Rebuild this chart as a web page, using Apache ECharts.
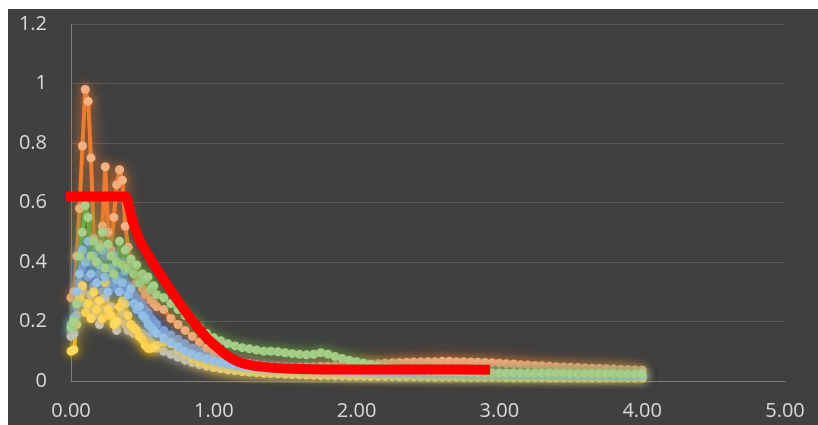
<!DOCTYPE html>
<html>
<head>
<meta charset="utf-8">
<script src="https://cdn.jsdelivr.net/npm/echarts@6/dist/echarts.min.js"></script>
<style>
html,body{margin:0;padding:0;background:#ffffff;}
#chart{position:absolute;left:8px;top:9px;width:810px;height:416px;background:#404040;}
</style>
</head>
<body>
<div id="chart"></div>
<script>
// Periods (s)
const periods = [0,0.02,0.04,0.06,0.08,0.10,0.12,0.14,0.16,0.18,0.20,0.22,0.24,0.26,0.28,0.30,0.32,0.34,0.36,0.38,0.40,0.42,0.44,0.46,0.48,0.50,0.52,0.54,0.56,0.58,0.60,
0.65,0.70,0.75,0.80,0.85,0.90,0.95,1.00,
1.05,1.10,1.15,1.20,1.25,1.30,1.35,1.40,1.45,1.50,1.55,1.60,1.65,1.70,1.75,1.80,1.85,1.90,1.95,2.00,
2.05,2.10,2.15,2.20,2.25,2.30,2.35,2.40,2.45,2.50,2.55,2.60,2.65,2.70,2.75,2.80,2.85,2.90,2.95,3.00,
3.05,3.10,3.15,3.20,3.25,3.30,3.35,3.40,3.45,3.50,3.55,3.60,3.65,3.70,3.75,3.80,3.85,3.90,3.95,4.00];

const rec1 = [0.17,0.19,0.25,0.33,0.38,0.42,0.35,0.40,0.32,0.44,0.36,0.30,0.42,0.45,0.33,0.38,0.31,0.35,0.40,0.33,0.31,0.32,0.29,0.28,0.27,0.26,0.24,0.23,0.21,0.20,0.19,
0.17,0.155,0.14,0.125,0.11,0.10,0.09,0.083,
0.076,0.069,0.062,0.056,0.050,0.046,0.042,0.039,0.036,0.034,0.032,0.031,0.030,0.029,0.028,0.027,0.026,0.026,0.025,0.025,
0.023,0.022,0.022,0.022,0.021,0.021,0.021,0.020,0.020,0.020,0.020,0.019,0.019,0.019,0.019,0.018,0.018,0.018,0.018,0.018,
0.017,0.017,0.017,0.017,0.016,0.016,0.016,0.016,0.016,0.016,0.015,0.015,0.015,0.015,0.015,0.015,0.015,0.015,0.015,0.015];

const rec2 = [0.28,0.30,0.42,0.58,0.79,0.98,0.94,0.75,0.48,0.40,0.46,0.52,0.72,0.50,0.44,0.55,0.66,0.71,0.675,0.52,0.45,0.40,0.36,0.33,0.35,0.31,0.29,0.30,0.27,0.26,0.25,
0.24,0.21,0.19,0.17,0.15,0.13,0.11,0.095,
0.085,0.075,0.068,0.062,0.058,0.055,0.052,0.050,0.048,0.047,0.046,0.046,0.047,0.048,0.050,0.050,0.051,0.052,0.053,0.054,
0.055,0.057,0.058,0.060,0.061,0.062,0.063,0.064,0.064,0.065,0.065,0.066,0.066,0.065,0.065,0.064,0.063,0.062,0.061,0.060,
0.058,0.057,0.055,0.054,0.052,0.051,0.050,0.048,0.047,0.046,0.045,0.044,0.043,0.042,0.041,0.040,0.039,0.038,0.037,0.036];

const rec3 = [0.15,0.16,0.22,0.27,0.30,0.26,0.24,0.29,0.22,0.26,0.19,0.24,0.28,0.22,0.25,0.21,0.17,0.20,0.23,0.19,0.17,0.18,0.16,0.17,0.15,0.16,0.145,0.15,0.13,0.12,0.11,
0.10,0.09,0.08,0.07,0.062,0.055,0.050,0.045,
0.041,0.038,0.035,0.033,0.031,0.030,0.029,0.028,0.027,0.026,0.025,0.025,0.024,0.024,0.023,0.023,0.022,0.022,0.022,0.021,
0.021,0.021,0.020,0.020,0.020,0.020,0.020,0.019,0.019,0.019,0.019,0.019,0.018,0.018,0.018,0.018,0.018,0.017,0.017,0.017,
0.017,0.017,0.016,0.016,0.016,0.016,0.016,0.016,0.015,0.015,0.015,0.015,0.015,0.015,0.015,0.014,0.014,0.014,0.014,0.014];

const rec4 = [0.10,0.105,0.19,0.28,0.32,0.23,0.26,0.21,0.30,0.24,0.27,0.21,0.33,0.24,0.22,0.19,0.20,0.25,0.27,0.26,0.22,0.19,0.18,0.17,0.15,0.14,0.12,0.11,0.11,0.115,0.12,
0.13,0.125,0.105,0.09,0.075,0.063,0.054,0.047,
0.042,0.038,0.035,0.032,0.030,0.028,0.026,0.025,0.024,0.023,0.022,0.021,0.020,0.019,0.018,0.018,0.017,0.017,0.016,0.016,
0.016,0.015,0.015,0.015,0.015,0.014,0.014,0.014,0.014,0.013,0.013,0.013,0.013,0.013,0.012,0.012,0.012,0.012,0.012,0.012,
0.011,0.011,0.011,0.011,0.011,0.011,0.010,0.010,0.010,0.010,0.010,0.010,0.010,0.010,0.010,0.010,0.010,0.010,0.010,0.010];

const rec5 = [0.19,0.21,0.30,0.36,0.44,0.40,0.47,0.36,0.42,0.33,0.39,0.44,0.35,0.30,0.38,0.42,0.34,0.30,0.33,0.37,0.29,0.31,0.26,0.24,0.25,0.22,0.21,0.19,0.18,0.17,0.16,
0.145,0.13,0.115,0.10,0.09,0.082,0.075,0.068,
0.062,0.057,0.053,0.050,0.047,0.045,0.043,0.041,0.040,0.039,0.038,0.037,0.036,0.035,0.034,0.033,0.032,0.031,0.030,0.030,
0.029,0.029,0.028,0.028,0.027,0.027,0.026,0.026,0.025,0.025,0.025,0.024,0.024,0.024,0.023,0.023,0.023,0.022,0.022,0.022,
0.021,0.021,0.021,0.021,0.020,0.020,0.020,0.020,0.020,0.019,0.019,0.019,0.019,0.019,0.018,0.018,0.018,0.018,0.018,0.018];

const rec6 = [0.18,0.20,0.26,0.42,0.50,0.59,0.55,0.42,0.47,0.40,0.45,0.50,0.38,0.46,0.42,0.36,0.40,0.47,0.39,0.44,0.38,0.41,0.36,0.39,0.33,0.36,0.34,0.35,0.31,0.32,0.29,
0.28,0.26,0.24,0.22,0.20,0.18,0.16,0.145,
0.135,0.125,0.118,0.112,0.108,0.104,0.100,0.100,0.098,0.095,0.092,0.090,0.088,0.090,0.095,0.090,0.082,0.076,0.070,0.065,
0.060,0.055,0.050,0.045,0.042,0.040,0.038,0.036,0.034,0.032,0.031,0.030,0.030,0.029,0.029,0.028,0.028,0.027,0.027,0.027,
0.027,0.027,0.026,0.026,0.026,0.026,0.026,0.026,0.026,0.025,0.025,0.025,0.025,0.025,0.025,0.025,0.024,0.024,0.024,0.024];

// Design spectrum
const designT = [0,0.38,0.39,0.41,0.44,0.48,0.55,0.63,0.72,0.80,0.88,0.95,1.02,1.08,1.15,1.22,1.30,1.40,1.55,1.80,2.20,2.60,2.90];
const designV = [0.62,0.62,0.615,0.58,0.525,0.475,0.415,0.355,0.29,0.235,0.185,0.145,0.115,0.09,0.07,0.057,0.05,0.045,0.041,0.039,0.039,0.039,0.038];

const xTicks = ['0.00','1.00','2.00','3.00','4.00','5.00'];
const yTicks = ['0','0.2','0.4','0.6','0.8','1','1.2'];

const records = [
  {vals: rec1, line: '#4472C4', mark: '#8FAADC'},
  {vals: rec2, line: '#ED7D31', mark: '#F4B183'},
  {vals: rec3, line: '#A5A5A5', mark: '#C9C9C9'},
  {vals: rec4, line: '#FFC000', mark: '#FFD966'},
  {vals: rec5, line: '#5B9BD5', mark: '#9DC3E6'},
  {vals: rec6, line: '#70AD47', mark: '#A9D18E'}
];

function hexA(hex, a){
  const n = parseInt(hex.slice(1),16);
  return 'rgba(' + ((n>>16)&255) + ',' + ((n>>8)&255) + ',' + (n&255) + ',' + a + ')';
}

const series = records.map(r => ({
  type: 'line',
  data: periods.map((t,i) => [t, r.vals[i]]),
  symbol: 'circle',
  symbolSize: 9,
  showSymbol: true,
  lineStyle: {color: r.line, width: 4, shadowBlur: 16, shadowColor: hexA(r.line, 0.9)},
  itemStyle: {color: r.mark, borderWidth: 0, shadowBlur: 10, shadowColor: hexA(r.line, 0.7)},
  emphasis: {disabled: true},
  z: 2
}));

series.push({
  type: 'line',
  data: designT.map((t,i) => [t, designV[i]]),
  symbol: 'none',
  smooth: 0.3,
  lineStyle: {color: '#FF0000', width: 10, cap: 'square', join: 'round'},
  emphasis: {disabled: true},
  z: 5
});

const labelFont = {color: '#D9D9D9', fontSize: 20, fontFamily: 'Open Sans'};

const chart = echarts.init(document.getElementById('chart'), null, {renderer: 'canvas'});
chart.setOption({
  animation: false,
  backgroundColor: '#404040',
  grid: {left: 63, right: 33, top: 15, bottom: 44, containLabel: false},
  xAxis: {
    type: 'value', min: 0, max: 5, interval: 1,
    axisLine: {show: true, lineStyle: {color: '#7F7F7F', width: 1}},
    axisTick: {show: false},
    splitLine: {show: false},
    axisLabel: Object.assign({margin: 20, formatter: v => xTicks[Math.round(v)]}, labelFont)
  },
  yAxis: {
    type: 'value', min: 0, max: 1.2, interval: 0.2,
    axisLine: {show: true, lineStyle: {color: '#7F7F7F', width: 1}},
    axisTick: {show: false},
    splitLine: {show: true, lineStyle: {color: '#5A5A5A', width: 1}},
    axisLabel: Object.assign({margin: 24, formatter: v => yTicks[Math.round(v / 0.2)]}, labelFont)
  },
  series: series
});
</script>
</body>
</html>
